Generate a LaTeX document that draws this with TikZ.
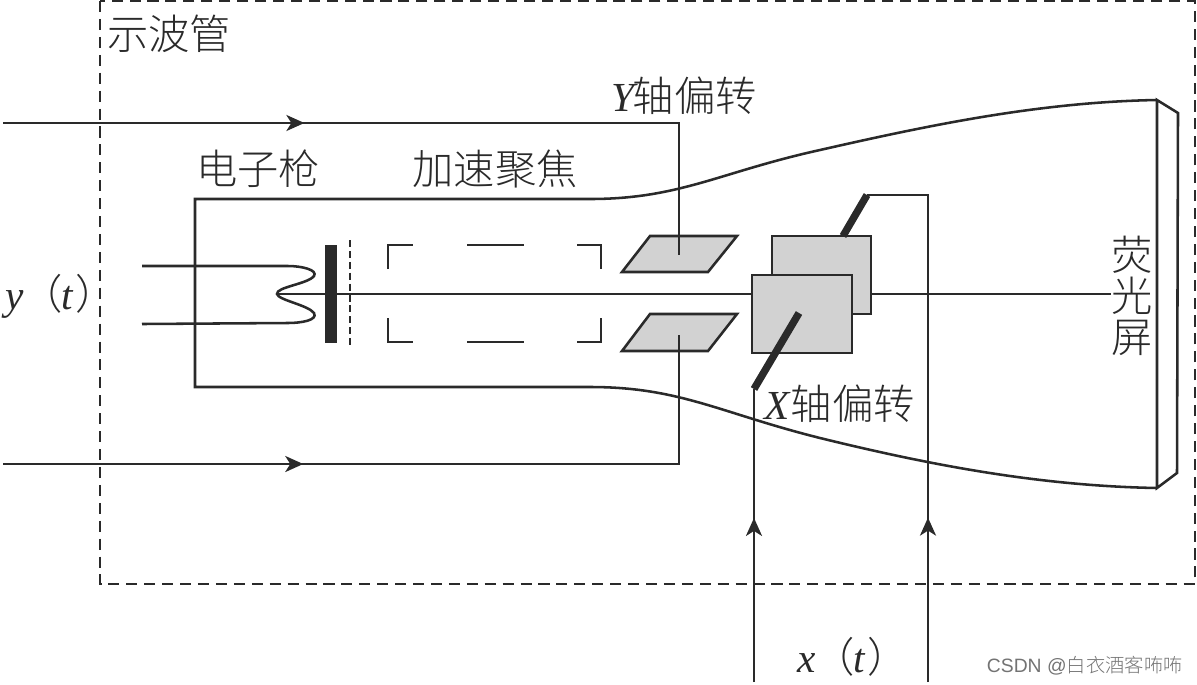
\documentclass[tikz,border=0pt]{standalone}
\usepackage{fontspec}
\setmainfont{Liberation Serif}
\newfontfamily\cjk{Noto Sans CJK SC Light}
\newfontfamily\wmfont{Liberation Sans}
\usepackage{xcolor}
\usetikzlibrary{arrows.meta,decorations.markings}
\definecolor{plategray}{HTML}{D2D2D2}
\definecolor{inkline}{HTML}{2A2A2A}
\tikzset{
  wireline/.style={line width=1.45pt,draw=inkline},
  platebox/.style={wireline,fill=plategray,line join=miter},
  thickbar/.style={line width=4.2pt,draw=inkline},
  midarrow/.style={postaction={decorate},decoration={markings,mark=at position #1 with {\arrow{Stealth[length=3.6mm,width=3.2mm,inset=1mm]}}}},
  cnlabel/.style={inner sep=0pt,font=\fontsize{23.5}{23.2}\selectfont\cjk,inkline},
  italabel/.style={inner sep=0pt,font=\fontsize{23.5}{24}\selectfont,inkline},
}
\begin{document}
\begin{tikzpicture}[x=0.02cm,y=-0.02cm]
  \useasboundingbox (0,0) rectangle (1197,684);
  % glass tube
  \draw[wireline] (1157,100) .. controls (1040,102) and (930,125) .. (820,150)
    .. controls (720,172) and (680,199) .. (590,199) -- (195,199) -- (195,387) -- (590,387)
    .. controls (680,387) and (720,413) .. (820,438)
    .. controls (930,465) and (1040,486) .. (1157,488);
  \draw[wireline] (1157,100) -- (1157,488) -- (1177,473) -- (1178,113) -- cycle;
  % outer box
  \draw[line width=1.4pt,draw=inkline,dash pattern=on 6.3pt off 3.9pt] (100,1) rectangle (1195,584);
  % beam axis
  \coordinate (beamL) at (277,294);
  \coordinate (beamR) at (1111,294);
  \draw[wireline] (beamL) -- (beamR);
  % filament
  \draw[wireline] (142,266) -- (288,266) .. controls (302,266) and (318,270) .. (314,276)
    .. controls (308,284) and (276,287) .. (277,294)
    .. controls (278,300) and (308,305) .. (314,313)
    .. controls (318,320) and (302,323) .. (288,323) -- (142,324);
  % cathode and grid
  \node[fill=inkline,minimum width=0.24cm,minimum height=1.96cm,inner sep=0pt] (cathode) at (331,294) {};
  \draw[line width=1.4pt,draw=inkline,dash pattern=on 4pt off 2.2pt] (350,240) -- (350,347);
  % focusing electrode
  \draw[wireline] (388,269) -- (388,245) -- (413,245);
  \draw[wireline] (467,245) -- (524,245);
  \draw[wireline] (577,245) -- (601,245) -- (601,269);
  \draw[wireline] (388,318) -- (388,342) -- (413,342);
  \draw[wireline] (467,342) -- (524,342);
  \draw[wireline] (577,342) -- (601,342) -- (601,318);
  % Y plates
  \draw[platebox] (622,272) coordinate (yupA) -- (650,236) -- (737,236) -- (708,272) -- cycle;
  \draw[platebox] (622,351) coordinate (ylowA) -- (650,314) -- (737,314) -- (708,351) -- cycle;
  \coordinate (yupP) at (679,255);
  \coordinate (ylowP) at (679,335);
  % X plates
  \node[platebox,minimum width=1.98cm,minimum height=1.56cm,inner sep=0pt] (xback) at (821.5,275) {};
  \node[platebox,minimum width=2.0cm,minimum height=1.56cm,inner sep=0pt] (xfront) at (802,314) {};
  \coordinate (xbackT) at (867,195);
  \coordinate (xfrontB) at (754,389);
  \draw[thickbar] (843,236) -- (xbackT);
  \draw[thickbar] (799,313) -- (xfrontB);
  % signal leads
  \coordinate (ytopS) at (3,123);
  \coordinate (ybotS) at (3,464);
  \coordinate (xleftS) at (754,682);
  \coordinate (xrightS) at (928,682);
  \draw[wireline,midarrow=0.373] (ytopS) -| (yupP);
  \draw[wireline,midarrow=0.373] (ybotS) -| (ylowP);
  \draw[wireline,midarrow=0.56] (xleftS) -- (xfrontB);
  \draw[wireline,midarrow=0.30] (xrightS) |- (xbackT);
  % labels
  \node[cnlabel] (lblScope) at (169,34) {示波管};
  \node[cnlabel] (lblGun) at (258,169) {电子枪};
  \node[cnlabel] (lblFocus) at (495,169) {加速聚焦};
  \node[italabel,anchor=west] (lblY) at (611,96) {\textit{Y}\hspace{-3pt}{\cjk 轴偏转}};
  \node[italabel,anchor=west] (lblX) at (764,404) {\textit{X}{\cjk 轴偏转}};
  \node[italabel,anchor=west] (lblYt) at (5,296) {\textit{y}\hspace{-1pt}{\cjk （}\hspace{-1pt}\textit{t}\hspace{1pt}{\cjk ）}};
  \node[italabel,anchor=west] (lblXt) at (797,657) {\textit{x}\hspace{-1pt}{\cjk （}\hspace{-1pt}\textit{t}\hspace{1pt}{\cjk ）}};
  \node[cnlabel,align=center] (lblScreen) at (1132,296) {荧\\光\\屏};
  \node[inner sep=0pt,anchor=east,font=\fontsize{11}{12}\selectfont\wmfont,black!55] (lblMark) at (1183,666) {CSDN @{\cjk 白衣酒客咘咘}};
\end{tikzpicture}
\end{document}
